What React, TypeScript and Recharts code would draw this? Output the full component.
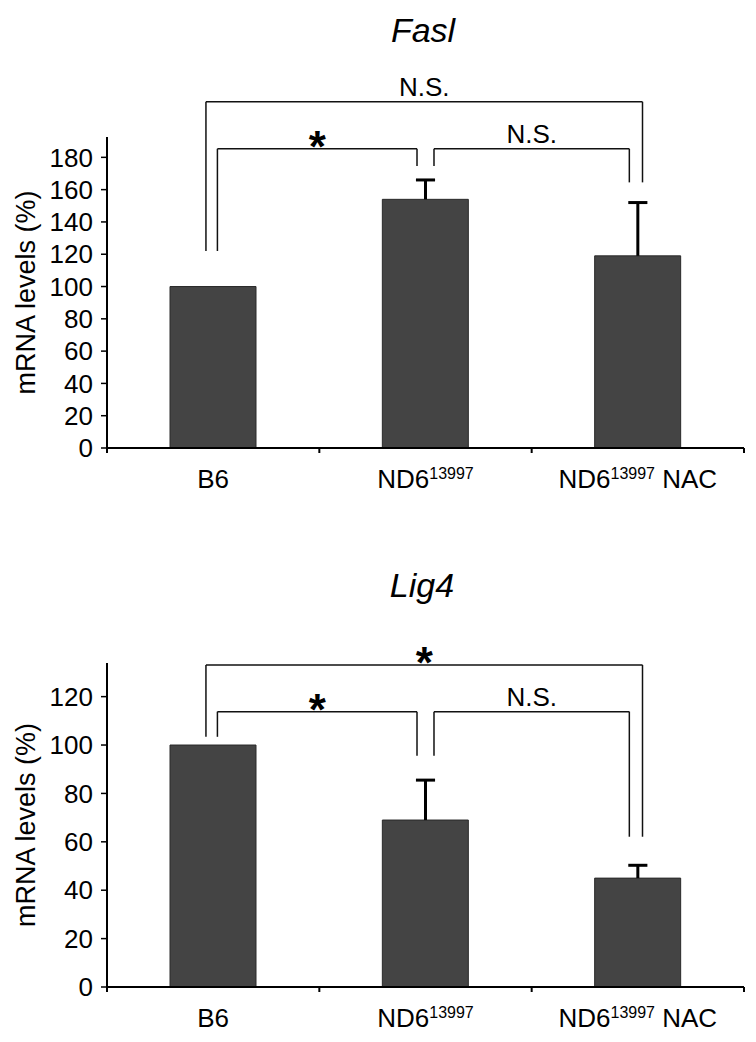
import React from 'react';
import { ComposedChart, Bar, XAxis, YAxis, ReferenceLine } from 'recharts';

// groups on the x axis (name, superscript, suffix)
const groupBase = ['B6', 'ND6', 'ND6'];
const groupSup = ['', '13997', '13997'];
const groupTail = ['', '', ' NAC'];

const faslMeans = [100, 154, 119];
const faslErrors = [0, 12, 33];
const faslTicks = [0, 20, 40, 60, 80, 100, 120, 140, 160, 180];

const lig4Means = [100, 69, 45];
const lig4Errors = [0, 16.5, 5.3];
const lig4Ticks = [0, 20, 40, 60, 80, 100, 120];

// significance brackets: x in group units (0..3), y in data units
type Bracket = { from: number; to: number; top: number; leftEnd: number; rightEnd: number; text: string };

const faslBrackets: Bracket[] = [
  { from: 0.52, to: 1.46, top: 185.3, leftEnd: 122, rightEnd: 174.6, text: '*' },
  { from: 1.54, to: 2.46, top: 185.3, leftEnd: 174.6, rightEnd: 164.5, text: 'N.S.' },
  { from: 0.466, to: 2.522, top: 214.4, leftEnd: 122, rightEnd: 164.5, text: 'N.S.' },
];

const lig4Brackets: Bracket[] = [
  { from: 0.52, to: 1.46, top: 113.8, leftEnd: 103.4, rightEnd: 95.6, text: '*' },
  { from: 1.54, to: 2.46, top: 113.8, leftEnd: 95.6, rightEnd: 62.1, text: 'N.S.' },
  { from: 0.466, to: 2.522, top: 133.1, leftEnd: 103.4, rightEnd: 62.1, text: '*' },
];

const FONT = '"Liberation Sans", Arial, sans-serif';
const xTicks = [0, 0.5, 1, 1.5, 2, 2.5, 3];

const XTick = (props: any) => {
  const { x, y, payload } = props;
  const v = payload.value;
  if (Number.isInteger(v)) {
    return <line x1={x} x2={x} y1={y} y2={y + 5} stroke="#000" strokeWidth={2} />;
  }
  const i = Math.floor(v);
  return (
    <text x={x} y={y + 40} textAnchor="middle" fontSize={26} fill="#000" fontFamily={FONT}>
      {groupBase[i]}
      {groupSup[i] && (
        <tspan dy={-9} fontSize={16}>
          {groupSup[i]}
        </tspan>
      )}
      {groupTail[i] && <tspan dy={9}>{groupTail[i]}</tspan>}
    </text>
  );
};

const yLabel = (p: any) => {
  const vb = p.viewBox;
  const cy = vb.y + vb.height / 2;
  return (
    <text
      transform={`translate(35, ${cy}) rotate(-90)`}
      textAnchor="middle"
      fontSize={27}
      fill="#000"
      fontFamily={FONT}
    >
      mRNA levels (%)
    </text>
  );
};

type PanelProps = {
  means: number[];
  errors: number[];
  ticks: number[];
  yMax: number;
  brackets: Bracket[];
  top: number;
  height: number;
  margin: { top: number; right: number; bottom: number; left: number };
  axisHeight: number;
};

const Panel = ({ means, errors, ticks, yMax, brackets, top, height, margin, axisHeight }: PanelProps) => {
  const data = means.map((m, i) => ({ pos: i + 0.5, value: m, err: errors[i] }));
  const line = { stroke: '#111', strokeWidth: 1.5, ifOverflow: 'visible' as const };
  return (
    <div style={{ position: 'absolute', left: 0, top }}>
      <ComposedChart width={756} height={height} data={data} margin={margin}>
        <XAxis
          type="number"
          dataKey="pos"
          domain={[0, 3]}
          allowDataOverflow
          ticks={xTicks}
          interval={0}
          tickSize={0}
          tickMargin={0}
          tickLine={false}
          tick={<XTick />}
          height={axisHeight}
          axisLine={{ stroke: '#000', strokeWidth: 2 }}
        />
        <YAxis
          type="number"
          domain={[0, yMax]}
          allowDataOverflow
          ticks={ticks}
          interval={0}
          width={107}
          tickSize={6}
          tickMargin={8}
          axisLine={{ stroke: '#000', strokeWidth: 2 }}
          tickLine={{ stroke: '#000', strokeWidth: 1.5 }}
          tick={{ fontSize: 26, fill: '#000', fontFamily: FONT }}
          label={yLabel}
        />
        <Bar dataKey="value" barSize={86} fill="#444444" stroke="#2a2a2a" strokeWidth={1} isAnimationActive={false} />
        {data
          .filter((d) => d.err > 0)
          .map((d) => (
            <ReferenceLine
              key={`e${d.pos}`}
              segment={[{ x: d.pos, y: d.value }, { x: d.pos, y: d.value + d.err }]}
              stroke="#000"
              strokeWidth={3}
              ifOverflow="visible"
            />
          ))}
        {data
          .filter((d) => d.err > 0)
          .map((d) => (
            <ReferenceLine
              key={`c${d.pos}`}
              segment={[{ x: d.pos - 0.045, y: d.value + d.err }, { x: d.pos + 0.045, y: d.value + d.err }]}
              stroke="#000"
              strokeWidth={3}
              ifOverflow="visible"
            />
          ))}
        {brackets.map((b, i) => (
          <ReferenceLine
            key={`bl${i}`}
            segment={[{ x: b.from, y: b.top }, { x: b.from, y: b.leftEnd }]}
            {...line}
          />
        ))}
        {brackets.map((b, i) => (
          <ReferenceLine
            key={`br${i}`}
            segment={[{ x: b.to, y: b.top }, { x: b.to, y: b.rightEnd }]}
            {...line}
          />
        ))}
        {brackets.map((b, i) => (
          <ReferenceLine
            key={`bt${i}`}
            segment={[{ x: b.from, y: b.top }, { x: b.to, y: b.top }]}
            {...line}
            label={
              b.text === '*'
                ? { value: '*', position: 'top', offset: -13, fontSize: 44, fontWeight: 'bold', fill: '#000', fontFamily: FONT }
                : { value: b.text, position: 'top', offset: 6, fontSize: 26, fill: '#000', fontFamily: FONT }
            }
          />
        ))}
      </ComposedChart>
    </div>
  );
};

export default function App() {
  return (
    <div style={{ position: 'absolute', left: 0, top: 0, width: 756, height: 1042, background: '#fff', fontFamily: FONT }}>
      <Panel
        means={faslMeans}
        errors={faslErrors}
        ticks={faslTicks}
        yMax={192.6}
        brackets={faslBrackets}
        top={0}
        height={520}
        margin={{ top: 137, right: 12, bottom: 17, left: 0 }}
        axisHeight={55}
      />
      <Panel
        means={lig4Means}
        errors={lig4Errors}
        ticks={lig4Ticks}
        yMax={133.9}
        brackets={lig4Brackets}
        top={520}
        height={522}
        margin={{ top: 143, right: 12, bottom: 5, left: 0 }}
        axisHeight={50}
      />
      <svg width={756} height={1042} style={{ position: 'absolute', left: 0, top: 0, pointerEvents: 'none' }}>
        <text x={423} y={42} textAnchor="middle" fontSize={34} fontStyle="italic" fill="#000" fontFamily={FONT}>
          Fasl
        </text>
        <text x={422} y={597} textAnchor="middle" fontSize={34} fontStyle="italic" fill="#000" fontFamily={FONT}>
          Lig4
        </text>
      </svg>
    </div>
  );
}
